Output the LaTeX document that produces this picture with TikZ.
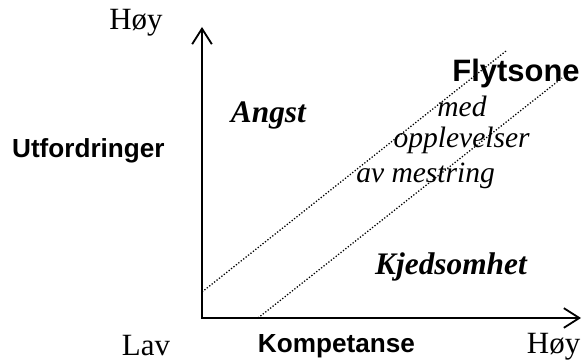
\documentclass[tikz,border=0pt]{standalone}
\usepackage{fontspec}
\setmainfont{Liberation Serif}
\setsansfont{Liberation Sans}
\usepackage{tikz}
\usetikzlibrary{arrows.meta}

\begin{document}
\begin{tikzpicture}[
    >={Straight Barb[length=11pt,width=14pt,line width=1.3pt]},
    achse/.style={line width=1.5pt, <->},
    sone/.style={line width=0.9pt, dash pattern=on 0.9pt off 1.3pt},
    wert/.style={anchor=base, font=\fontsize{22}{25}\selectfont},
    titel/.style={anchor=base, font=\sffamily\bfseries\fontsize{18.6}{22}\selectfont},
    omr/.style={anchor=base, font=\bfseries\itshape\fontsize{22.3}{25}\selectfont},
    tekst/.style={anchor=base, font=\itshape\fontsize{21}{24}\selectfont}]
    \useasboundingbox (-5.05,-1.125) rectangle (9.525,7.95);

    % Achsen
    \coordinate (o) at (0,0);
    \coordinate (ytop) at (0,7.275);
    \coordinate (xend) at (9.475,0);
    \draw[achse] (ytop) -- (o) -- (xend);

    % Flytsone
    \coordinate (a1) at (0,0.65);
    \coordinate (a2) at (7.6,6.675);
    \coordinate (b1) at (1.4,0);
    \coordinate (b2) at (9.0,6.0);
    \draw[sone] (a1) -- (a2);
    \draw[sone] (b1) -- (b2);

    % Beschriftung
    \node[wert] (hoyy) at (-1.65,7.2) {Høy};
    \node[wert] (lav) at (-1.4,-0.95) {Lav};
    \node[wert] (hoyx) at (8.79,-0.9) {Høy};
    \node[titel] (utf) at (-2.84,4.0) {Utfordringer};
    \node[titel] (komp) at (3.36,-0.875) {Kompetanse};

    \node[omr] (angst) at (1.66,4.875) {Angst};
    \node[omr] (kjed) at (6.225,1.075) {Kjedsomhet};
    \node[anchor=base, font=\sffamily\bfseries\fontsize{22}{26}\selectfont] (flyt) at (7.85,5.9) {Flytsone};
    \node[tekst] (med) at (6.5,5.025) {med};
    \node[tekst] (oppl) at (6.49,4.25) {opplevelser};
    \node[tekst] (mestr) at (5.59,3.375) {av mestring};
\end{tikzpicture}
\end{document}
